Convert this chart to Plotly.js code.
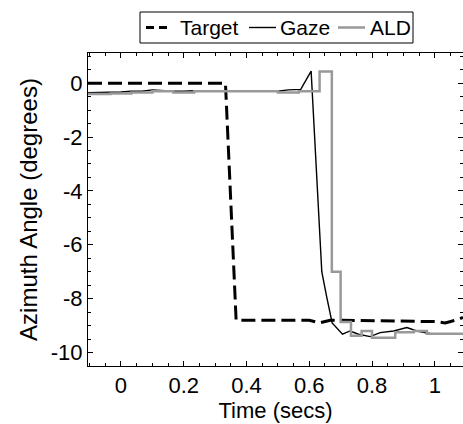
<!DOCTYPE html>
<html>
<head>
<meta charset="utf-8">
<script src="https://cdn.plot.ly/plotly-3.0.1.min.js"></script>
<style>html,body{margin:0;padding:0;background:#fff;}#chart{width:463px;height:424px;}</style>
</head>
<body>
<div id="chart"></div>
<script>
// Target (dashed black)
const targetX = [-0.105, 0.333, 0.367, 0.6, 0.633, 0.667, 1.0, 1.033, 1.067, 1.09];
const targetY = [0, 0, -8.8, -8.8, -8.9, -8.8, -8.85, -8.9, -8.8, -8.7];

// Gaze (thin black)
const gazeX = [-0.105, -0.067, -0.033, 0.0, 0.033, 0.067, 0.1, 0.133, 0.167, 0.2, 0.233, 0.267, 0.3, 0.333, 0.367, 0.4, 0.433, 0.467, 0.5, 0.533, 0.573, 0.606, 0.64, 0.655, 0.673, 0.706, 0.73, 0.757, 0.794, 0.826, 0.869, 0.911, 0.943, 0.996, 1.04, 1.09];
const gazeY = [-0.35, -0.35, -0.33, -0.33, -0.3, -0.3, -0.25, -0.28, -0.3, -0.3, -0.28, -0.3, -0.28, -0.28, -0.28, -0.3, -0.3, -0.3, -0.3, -0.25, -0.23, 0.45, -7.0, -7.9, -8.9, -9.32, -9.2, -9.32, -9.41, -9.26, -9.2, -9.07, -9.2, -9.32, -9.32, -9.3];

// ALD (grey, stepped)
const aldX = [-0.105, -0.067, -0.033, 0.0, 0.033, 0.067, 0.1, 0.133, 0.167, 0.2, 0.233, 0.267, 0.3, 0.333, 0.367, 0.4, 0.433, 0.467, 0.5, 0.533, 0.567, 0.6, 0.633, 0.672, 0.7, 0.733, 0.767, 0.8, 0.833, 0.874, 0.9, 0.933, 0.975, 1.0, 1.033, 1.09];
const aldY = [-0.4, -0.4, -0.38, -0.38, -0.35, -0.35, -0.3, -0.3, -0.35, -0.35, -0.3, -0.3, -0.3, -0.3, -0.3, -0.3, -0.3, -0.3, -0.35, -0.35, -0.3, -0.3, 0.43, -7.0, -8.87, -9.38, -9.2, -9.45, -9.45, -9.25, -9.25, -9.2, -9.3, -9.3, -9.3, -9.3];

const seriesNames = ['Target', 'Gaze', 'ALD'];
const xTicks = [0, 0.2, 0.4, 0.6, 0.8, 1];
const xTickText = ['0', '0.2', '0.4', '0.6', '0.8', '1'];
const yTicks = [0, -2, -4, -6, -8, -10];
const yTickText = ['0', '-2', '-4', '-6', '-8', '-10'];

const styles = [
  {color: '#000', width: 3, dash: '14px,6px'},
  {color: '#000', width: 1.4},
  {color: '#999', width: 2.5, shape: 'hv'}
];

const traces = [
  {x: targetX, y: targetY, name: seriesNames[0], mode: 'lines', line: styles[0]},
  {x: gazeX, y: gazeY, name: seriesNames[1], mode: 'lines', line: styles[1]},
  {x: aldX, y: aldY, name: seriesNames[2], mode: 'lines', line: styles[2]}
];

const FAM = 'Liberation Sans, Arial, sans-serif';
const tickFont = {family: FAM, size: 22, color: '#000'};

// plot area in pixels
const L = 88, R = 0, T = 53, B = 58, W = 463, H = 424;
const pw = W - L - R, ph = H - T - B;
const px = v => (v - L) / pw;
const py = v => (H - B - v) / ph;

// manual legend (box, samples, labels)
const legBox = {x0: 140, x1: 413, y0: 12, y1: 43};
const legSamples = [[146, 172], [249, 276], [338, 365]];
const legText = [178, 278, 368];
const legY = 27.5;

const shapes = [
  {type: 'rect', xref: 'paper', yref: 'paper', x0: px(legBox.x0), x1: px(legBox.x1), y0: py(legBox.y1), y1: py(legBox.y0), line: {color: '#000', width: 1}, fillcolor: '#fff'}
];
const annotations = [];
for (let i = 0; i < 3; i++) {
  shapes.push({type: 'line', xref: 'paper', yref: 'paper', x0: px(legSamples[i][0]), x1: px(legSamples[i][1]), y0: py(legY), y1: py(legY),
    line: {color: styles[i].color, width: styles[i].width, dash: i === 0 ? '8px,5px' : 'solid'}});
  annotations.push({xref: 'paper', yref: 'paper', x: px(legText[i]), y: py(legY), xanchor: 'left', yanchor: 'middle', showarrow: false,
    text: seriesNames[i], font: {family: FAM, size: 21, color: '#000'}});
}

const layout = {
  width: W, height: H,
  margin: {l: L, r: R, t: T, b: B},
  paper_bgcolor: '#fff', plot_bgcolor: '#fff',
  showlegend: false,
  shapes: shapes,
  annotations: annotations,
  xaxis: {
    range: [-0.105, 1.09], tickvals: xTicks, ticktext: xTickText,
    ticks: 'inside', ticklen: 5, tickcolor: '#000', mirror: 'allticks',
    showline: true, linecolor: '#000', linewidth: 1, showgrid: false, zeroline: false,
    minor: {dtick: 0.05, ticks: 'inside', ticklen: 3, tickcolor: '#000', showgrid: false},
    title: {text: 'Time (secs)', font: {family: FAM, size: 22, color: '#000'}, standoff: 3},
    tickfont: tickFont, automargin: false
  },
  yaxis: {
    range: [-10.5, 1.12], tickvals: yTicks, ticktext: yTickText,
    ticks: 'inside', ticklen: 5, tickcolor: '#000', mirror: 'allticks',
    showline: true, linecolor: '#000', linewidth: 1, showgrid: false, zeroline: false,
    minor: {dtick: 0.5, ticks: 'inside', ticklen: 3, tickcolor: '#000', showgrid: false},
    title: {text: 'Azimuth Angle (degrees)', font: {family: FAM, size: 24, color: '#000'}, standoff: 6},
    tickfont: tickFont, automargin: false
  }
};

Plotly.newPlot('chart', traces, layout, {staticPlot: true, displayModeBar: false});
</script>
</body>
</html>
